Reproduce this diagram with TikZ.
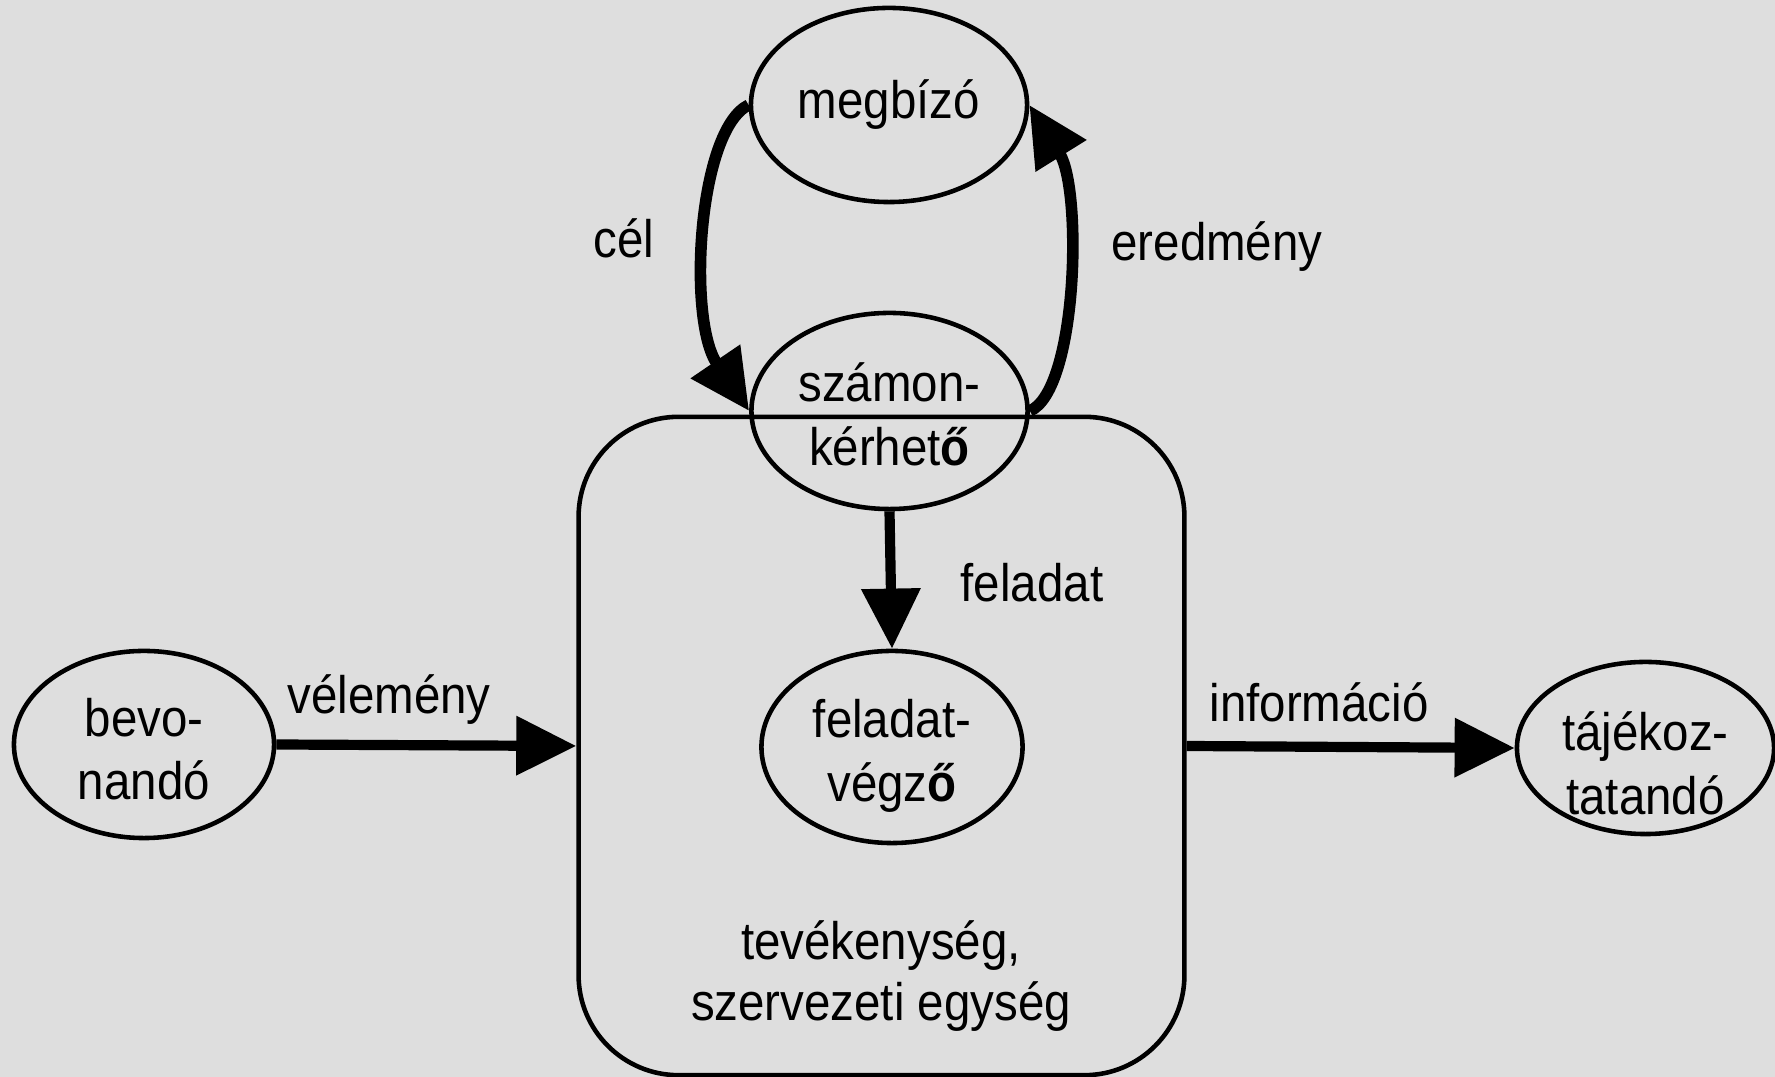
\documentclass[tikz,border=0pt]{standalone}
\usepackage{fontspec}
\setmainfont{Liberation Sans}[FakeStretch=0.9]
\usetikzlibrary{arrows.meta,shapes.geometric}
\definecolor{bgc}{RGB}{222,222,222}
\begin{document}
\begin{tikzpicture}[x=0.01cm,y=-0.01cm,
  ell/.style={draw, ellipse, line width=1.3pt, inner sep=0pt, align=center,
    font=\fontsize{15}{17.3}\selectfont},
  lbl/.style={font=\fontsize{15}{17.3}\selectfont, inner sep=0pt, align=center},
  arr/.style={line width=2.9pt, -{Triangle[length=0.6cm,width=0.57cm]}},
  carr/.style={arr, line width=3.3pt}]
\useasboundingbox (0,0) rectangle (1775,1077);
\fill[bgc] (0,0) rectangle (1775,1077);
% box
\node[draw, line width=1.3pt, rounded corners=1cm, minimum width=6.055cm,
  minimum height=6.58cm, inner sep=0pt] (box) at (881.5,746) {};
% ellipses
\node[ell, minimum width=2.76cm, minimum height=1.94cm] (megbizo) at (889,105) {megbízó};
\node[ell, minimum width=2.76cm, minimum height=1.96cm] (szamon) at (889.5,411)
  {\raisebox{-0.23cm}[0pt][0pt]{\begin{tabular}{@{}c@{}}számon-\\[0.03cm]kérhet\textbf{ő}\end{tabular}}};
\node[ell, minimum width=2.61cm, minimum height=1.92cm] (vegzo) at (892,747)
  {\raisebox{-0.23cm}[0pt][0pt]{\begin{tabular}{@{}c@{}}feladat-\\[0.03cm]végz\textbf{ő}\end{tabular}}};
\node[ell, minimum width=2.60cm, minimum height=1.87cm] (bevon) at (144,744.5)
  {\raisebox{-0.24cm}[0pt][0pt]{\begin{tabular}{@{}c@{}}bevo-\\[0.03cm]nandó\end{tabular}}};
\node[ell, minimum width=2.57cm, minimum height=1.72cm] (taj) at (1645.5,748)
  {\raisebox{-0.35cm}[0pt][0pt]{\begin{tabular}{@{}c@{}}tájékoz-\\[0.03cm]tatandó\end{tabular}}};
% connectors
\draw[carr] (megbizo.west) .. controls +(-51,25) and +(-62,-91) .. (szamon.west);
\draw[carr] (szamon.east) .. controls +(48,-21) and +(53,85) .. (megbizo.east);
\draw[arr] (szamon.south) -- (vegzo.north);
\draw[arr] (bevon.east) -- (box.west);
\draw[arr] (box.east) -- (taj.west);
% labels
\node[lbl] (lcel) at (624,238) {cél};
\node[lbl] (lered) at (1217,247) {eredmény};
\node[lbl] (lfel) at (1032,583) {feladat};
\node[lbl] (lvel) at (389,700) {vélemény};
\node[lbl] (linf) at (1319,702) {információ};
\node[lbl] (ltev) at (881,976) {tevékenység,\\szervezeti egység};
\end{tikzpicture}
\end{document}
